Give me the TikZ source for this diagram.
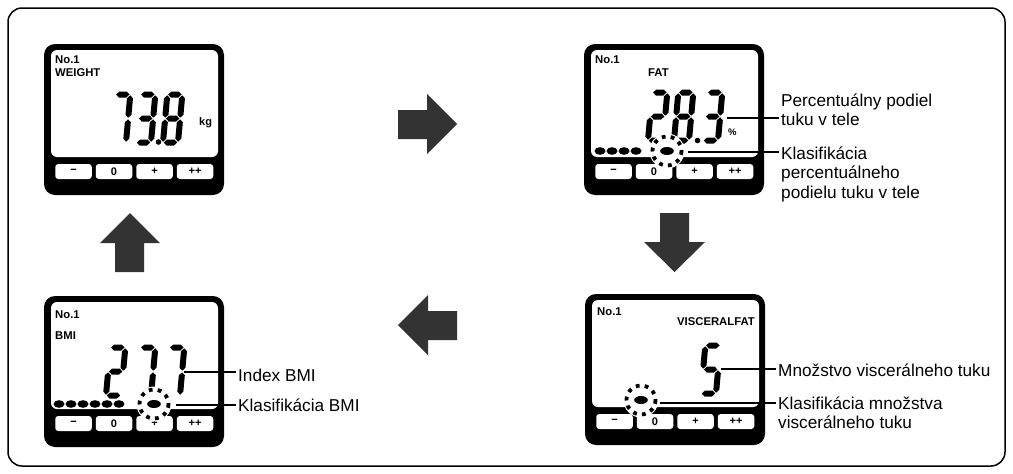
\documentclass[tikz,border=0pt]{standalone}
\usepackage{fontspec}
\setmainfont{Liberation Sans}
\definecolor{arrowgray}{HTML}{333333}
\tikzset{
 lcdbody/.style={fill=black, rounded corners=11pt, minimum width=180pt, minimum height=151pt, anchor=north west, inner sep=0pt, outer sep=0pt},
 lcdscreen/.style={fill=white, rounded corners=6pt, minimum width=167pt, minimum height=107pt, anchor=north west, inner sep=0pt, outer sep=0pt},
 btn/.style={fill=white, rounded corners=3pt, minimum width=36.5pt, minimum height=15pt, inner sep=0pt, font=\fontsize{11}{11}\selectfont\bfseries},
 lcdtext/.style={font=\fontsize{11.3}{11}\selectfont\bfseries, inner sep=0pt},
 lab/.style={font=\fontsize{17.2}{19.8}\selectfont, inner sep=0pt, anchor=base west},
 leader/.style={line width=1.9pt, shorten >=2pt},
 bigarrow/.style={fill=arrowgray},
 ring/.style={line width=3.8pt, dash pattern=on 3.8pt off 5.2pt},
 frame/.style={line width=1.5pt, rounded corners=14pt},
}
% seven-segment pieces (local units, y up)
\newcommand\hsg[1]{\fill (0.8,#1) -- (3.8,#1+3) -- (11.2,#1+3) -- (14.2,#1) -- (11.2,#1-3) -- (3.8,#1-3) -- cycle;}
\newcommand\vsg[3]{\fill (#1,#2+0.8) -- (#1+3,#2+3.8) -- (#1+3,#3-3.8) -- (#1,#3-0.8) -- (#1-3,#3-3.8) -- (#1-3,#2+3.8) -- cycle;}
\newcommand\lcdsega{\hsg{48}}
\newcommand\lcdsegg{\hsg{24}}
\newcommand\lcdsegd{\hsg{0}}
\newcommand\lcdsegb{\vsg{15}{24}{48}}
\newcommand\lcdsegc{\vsg{15}{0}{24}}
\newcommand\lcdsegf{\vsg{0}{24}{48}}
\newcommand\lcdsege{\vsg{0}{0}{24}}
\newcommand\lcddigit[3]{%
 \begin{scope}[shift={(#1,#2)}, y=1pt, xslant=0.09]
 \foreach \s in {#3} {\csname lcdseg\s\endcsname}
 \end{scope}}
\newcommand\lcdunit[3]{%
 \node[lcdbody] (#3) at (#1,#2) {};
 \node[lcdscreen] (#3s) at (#1+7,#2+6) {};
 \node[btn] (#3b1) at (#1+29.5,#2+127.5) {−};
 \node[btn] (#3b2) at (#1+70,#2+127.5) {0};
 \node[btn] (#3b3) at (#1+110.5,#2+127.5) {+};
 \node[btn] (#3b4) at (#1+151,#2+127.5) {++};
}
\newcommand\lcdring[2]{%
 \fill[white] (#1,#2) circle (17.5);
 \draw[ring] (#1,#2) circle (14.5);
 \fill (#1,#2) ellipse (6.8 and 4);
}
\newcommand\twolines[2]{\vtop{\hbox{#1}\hbox{#2}}}
\newcommand\threelines[3]{\vtop{\hbox{#1}\hbox{#2}\hbox{#3}}}
\begin{document}
\begin{tikzpicture}[x=1pt,y=-1pt]
\useasboundingbox (0,0) rectangle (1013,474);
\fill[white] (0,0) rectangle (1013,474);
\draw[frame] (8,8) rectangle (1005,466);

% ---- display 1: WEIGHT
\lcdunit{44}{44}{dw}
\node[lcdtext, anchor=base west] (dwno) at (55,63) {No.1};
\node[lcdtext, anchor=base west] (dwt) at (55,76) {WEIGHT};
\node[lcdtext, anchor=base west, font=\fontsize{11}{11}\selectfont\bfseries] (dwu) at (199,125) {kg};
\lcddigit{111}{142.5}{a,b,c}
\lcddigit{136}{142.5}{a,b,c,d,g}
\lcddigit{163}{142.5}{a,b,c,d,e,f,g}
\fill (158.5,142) circle (2.8);

% ---- display 2: FAT
\lcdunit{584}{44}{df}
\node[lcdtext, anchor=base west] (dfno) at (595,63) {No.1};
\node[lcdtext, anchor=base west] (dft) at (648,76) {FAT};
\node[lcdtext, anchor=base west, font=\fontsize{9.5}{9}\selectfont\bfseries] (dfu) at (728,135) {\%};
\lcddigit{648}{140.5}{a,b,g,e,d}
\lcddigit{674}{140.5}{a,b,c,d,e,f,g}
\lcddigit{703}{140.5}{a,b,c,d,g}
\fill (697.5,140.5) circle (2.8);
\foreach \x in {600,612,624,636} {\fill (\x,151) ellipse (5.5 and 3.8);}
\lcdring{667}{151}
\node[lab] (fatl1) at (781,106) {\twolines{Percentuálny podiel}{tuku v tele}};
\node[lab] (fatl2) at (781,159) {\threelines{Klasifikácia}{percentuálneho}{podielu tuku v tele}};
\coordinate (fatA) at (727,118);
\coordinate (fatB) at (688,152);
\draw[leader] (fatA) -- (fatA -| fatl1.west);
\draw[leader] (fatB) -- (fatB -| fatl2.west);

% ---- display 3: BMI
\lcdunit{44}{296}{db}
\node[lcdtext, anchor=base west] (dbno) at (55,318) {No.1};
\node[lcdtext, anchor=base west] (dbt) at (55,339) {BMI};
\lcddigit{106}{395.5}{a,b,g,e,d}
\lcddigit{136}{395.5}{a,b,c}
\lcddigit{165}{395.5}{a,b,c}
\foreach \x in {59,71,83,95,107,119} {\fill (\x,404) ellipse (5.5 and 3.8);}
\lcdring{154}{404}
\node[lab] (bmil1) at (238,381) {Index BMI};
\node[lab] (bmil2) at (238,411) {Klasifikácia BMI};
\coordinate (bmiA) at (184,372);
\coordinate (bmiB) at (176,405);
\draw[leader] (bmiA) -- (bmiA -| bmil1.west);
\draw[leader] (bmiB) -- (bmiB -| bmil2.west);

% ---- display 4: VISCERAL FAT
\lcdunit{585}{294}{dv}
\node[lcdtext, anchor=base west] (dvno) at (597,315) {No.1};
\node[lcdtext, anchor=base east] (dvt) at (755,325) {VISCERALFAT};
\lcddigit{701}{393.5}{a,f,g,c,d}
\lcdring{641}{400}
\node[lab] (vil1) at (778,376) {Množstvo viscerálneho tuku};
\node[lab] (vil2) at (778,409) {\twolines{Klasifikácia množstva}{viscerálneho tuku}};
\coordinate (viA) at (721,369);
\coordinate (viB) at (660,403);
\draw[leader] (viA) -- (viA -| vil1.west);
\draw[leader] (viB) -- (viB -| vil2.west);

% ---- flow arrows
\fill[bigarrow] (398,110) -- (427,110) -- (427,94) -- (457,124) -- (427,154) -- (427,139) -- (398,139) -- cycle;
\fill[bigarrow] (660,213) -- (689,213) -- (689,242) -- (705,242) -- (674.5,272) -- (644,242) -- (660,242) -- cycle;
\fill[bigarrow] (457,311) -- (428,311) -- (428,295) -- (398,325) -- (428,355) -- (428,340) -- (457,340) -- cycle;
\fill[bigarrow] (115,272) -- (115,243) -- (100,243) -- (130,213) -- (160,243) -- (144,243) -- (144,272) -- cycle;
\end{tikzpicture}
\end{document}
